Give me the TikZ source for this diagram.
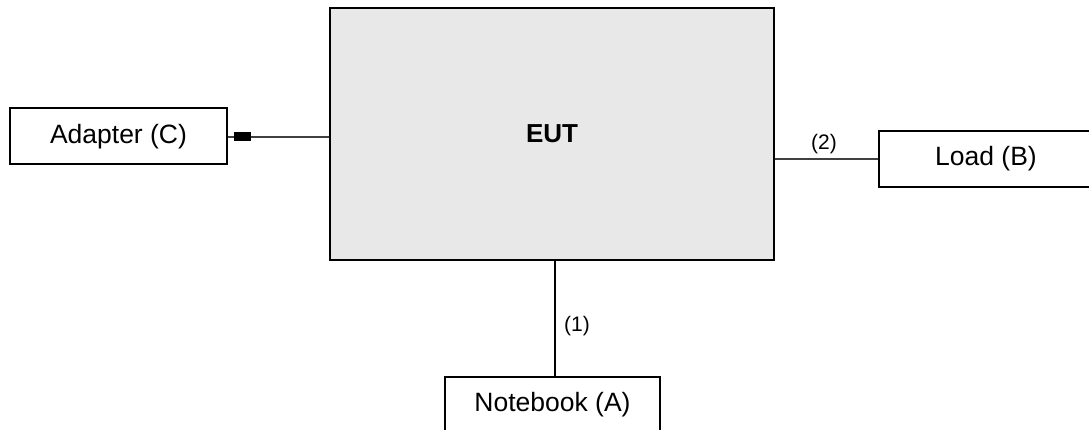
\documentclass[tikz,border=0pt]{standalone}
\usepackage{fontspec}
\setmainfont{Liberation Sans}
\begin{document}
\begin{tikzpicture}[x=1pt,y=-1pt,
  boxstyle/.style={draw=black,line width=2pt,fill=white,inner sep=0pt,
    font=\fontsize{26.5}{30}\selectfont},
  eutstyle/.style={draw=black,line width=2pt,fill=black!9,inner sep=0pt,
    font=\fontsize{26}{30}\selectfont\bfseries},
  wire/.style={line width=1.3pt,draw=black!75},
  cable/.style={line width=1.8pt,draw=black},
  lbl/.style={font=\fontsize{21}{24}\selectfont,inner sep=0pt},
  plug/.style={fill=black,draw=none,minimum width=17pt,minimum height=9pt,inner sep=0pt}
]
\useasboundingbox (0,0) rectangle (1089,430);
\clip (0,0) rectangle (1089,430);
\node[eutstyle,minimum width=444pt,minimum height=252pt] (eut) at (552,134) {EUT};
\node[boxstyle,minimum width=217pt,minimum height=56pt] (adapter) at (118.5,136.5) {Adapter (C)};
\node[boxstyle,minimum width=214pt,minimum height=56pt] (load) at (986,159) {Load (B)};
\node[boxstyle,minimum width=215pt,minimum height=56pt] (notebook) at (552.5,405) {Notebook (A)};
\draw[wire] (adapter.east |- 0,137) -- (eut.west |- 0,137) node[plug,pos=0.14] (plugc) {};
\draw[wire] (eut.east |- 0,159) -- (load.west |- 0,159);
\draw[cable] (eut.south -| 555,0) -- (notebook.north -| 555,0);
\node[lbl] (l2) at (824,144) {(2)};
\node[lbl] (l1) at (577,326) {(1)};
\end{tikzpicture}
\end{document}
